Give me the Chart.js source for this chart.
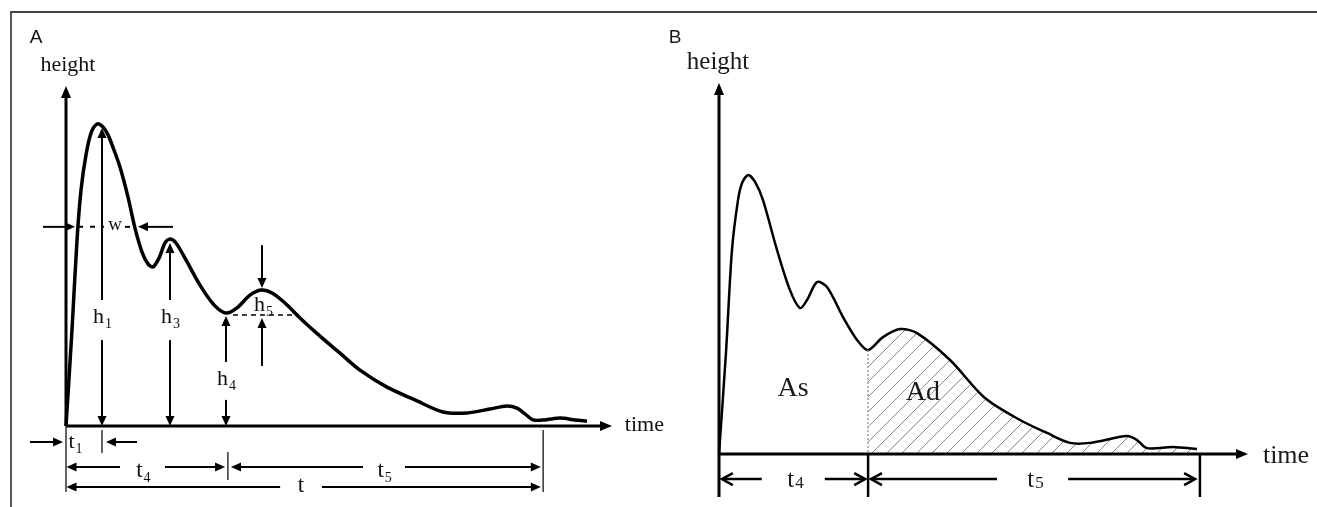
<!DOCTYPE html>
<html>
<head>
<meta charset="utf-8">
<script src="https://cdn.jsdelivr.net/npm/chart.js@4/dist/chart.umd.min.js"></script>
<style>
  body { margin: 0; background: #fff; }
  #wrap { position: relative; width: 1317px; height: 507px; overflow: hidden; }
  #frame { position: absolute; left: 10px; top: 11px; width: 1307px; height: 496px;
           border-top: 2px solid #444; border-left: 2px solid #555; box-sizing: border-box; }
  #cA { position: absolute; left: 0; top: 0; }
  #cB { position: absolute; left: 650px; top: 0; }
</style>
</head>
<body>
<div id="wrap">
  <div id="frame"></div>
  <canvas id="cA" width="700" height="507"></canvas>
  <canvas id="cB" width="667" height="507"></canvas>
</div>
<script>
// panel A curve (time vs height, arbitrary units)
const timeA = [0, 1.26, 2.32, 3.16, 4.21, 5.27, 6.53, 7.79, 8.85, 10.11, 11.37, 13.06, 14.53, 16.01,
  17.27, 18.32, 19.59, 20.85, 21.9, 23.17, 25.27, 28.22, 31.17, 33.7, 36.02, 38.75, 41.07, 43.39,
  46.12, 49.28, 53.5, 57.71, 61.92, 67.61, 73.5, 79.4, 84.46, 89.3, 92.88, 94.99, 96.67, 98.36,
  100.88, 104.04, 107.2, 109.73];
const heightA = [0, 31.6, 61.3, 77.7, 89.3, 96.5, 99.5, 98.5, 95.9, 90.9, 85.3, 75.4, 65.2, 57.3,
  53.4, 52.4, 55.3, 60.3, 61.6, 60.3, 54.7, 46.4, 39.9, 37.2, 38.9, 43.1, 44.8, 43.8,
  40.5, 35.6, 29.6, 24.0, 18.4, 12.8, 8.6, 4.6, 4.3, 5.6, 6.6, 5.9, 4.0, 2.0,
  2.0, 2.6, 2.0, 1.6];

// panel B curve
const timeB = [0, 1.46, 2.7, 3.95, 4.78, 6.03, 7.49, 9.15, 12.06, 14.76, 16.84, 18.3, 20.38, 22.46,
  25.78, 28.7, 30.98, 34.1, 37.64, 41.17, 48.04, 55.31, 62.59, 68.21, 72.99, 77.15, 84.84,
  86.92, 89.0, 94.41, 99.4];
const heightB = [0, 33.0, 66.0, 82.1, 87.6, 90.2, 88.0, 82.1, 66.0, 53.0, 47.2, 49.8, 55.6, 54.0,
  44.3, 36.9, 33.6, 37.8, 40.4, 39.1, 30.4, 18.1, 11.0, 6.8, 3.6, 3.6, 5.8,
  4.5, 1.9, 2.3, 1.6];
const splitB = 30.98; // t4 / t5 boundary in panel B

const ptsA = timeA.map((t, i) => ({ x: t, y: heightA[i] }));
const ptsB = timeB.map((t, i) => ({ x: t, y: heightB[i] }));
const ptsAd = ptsB.filter(p => p.x >= splitB);

const SERIF = '"Liberation Serif", "Times New Roman", serif';
const SANS = '"Liberation Sans", Arial, sans-serif';

function seg(ctx, x1, y1, x2, y2) {
  ctx.beginPath(); ctx.moveTo(x1, y1); ctx.lineTo(x2, y2); ctx.stroke();
}
function head(ctx, x1, y1, x2, y2, len, half, open) {
  const a = Math.atan2(y2 - y1, x2 - x1);
  const c = Math.cos(a), s = Math.sin(a);
  const bx = x2 - len * c, by = y2 - len * s;
  ctx.beginPath();
  ctx.moveTo(bx - half * s, by + half * c);
  ctx.lineTo(x2, y2);
  ctx.lineTo(bx + half * s, by - half * c);
  if (open) { ctx.stroke(); } else { ctx.closePath(); ctx.fill(); }
}
function arrow(ctx, x1, y1, x2, y2, len, half, open) {
  const a = Math.atan2(y2 - y1, x2 - x1);
  const back = open ? 0 : len * 0.8;
  seg(ctx, x1, y1, x2 - back * Math.cos(a), y2 - back * Math.sin(a));
  head(ctx, x1, y1, x2, y2, len, half, open);
}
function subText(ctx, main, sub, cx, by, size, subSize, dy) {
  ctx.font = size + 'px ' + SERIF;
  const w1 = ctx.measureText(main).width;
  ctx.font = subSize + 'px ' + SERIF;
  const w2 = ctx.measureText(sub).width;
  const x0 = cx - (w1 + w2) / 2;
  ctx.textAlign = 'left';
  ctx.textBaseline = 'alphabetic';
  ctx.font = size + 'px ' + SERIF;
  ctx.fillText(main, x0, by);
  ctx.font = subSize + 'px ' + SERIF;
  ctx.fillText(sub, x0 + w1 + 1, by + dy);
}

const annotateA = {
  id: 'annotateA',
  afterDraw(chart) {
    const ctx = chart.ctx;
    const X = v => chart.scales.x.getPixelForValue(v);
    const Y = v => chart.scales.y.getPixelForValue(v);
    ctx.save();
    ctx.strokeStyle = '#000'; ctx.fillStyle = '#000';
    ctx.lineCap = 'butt';

    // axes
    ctx.lineWidth = 3;
    arrow(ctx, X(0), Y(0), X(0), Y(112), 12, 5);
    arrow(ctx, X(0), Y(0), X(115), Y(0), 12, 5);

    ctx.lineWidth = 2;
    // w
    arrow(ctx, X(-4.84), Y(65.6), X(1.9), Y(65.6), 10, 4.5);
    arrow(ctx, X(22.54), Y(65.6), X(15.16), Y(65.6), 10, 4.5);
    ctx.setLineDash([5, 7]);
    seg(ctx, X(2.53), Y(65.6), X(8.0), Y(65.6));
    seg(ctx, X(12.43), Y(65.6), X(14.11), Y(65.6));
    ctx.setLineDash([]);

    // h1, h3 (split double arrows)
    [[7.58, 98.2], [21.9, 60.3]].forEach(([hx, top]) => {
      arrow(ctx, X(hx), Y(41.5), X(hx), Y(top), 10, 4.5);
      arrow(ctx, X(hx), Y(28.3), X(hx), Y(0), 10, 4.5);
    });
    // h4
    arrow(ctx, X(33.7), Y(21.1), X(33.7), Y(36.2), 10, 4.5);
    arrow(ctx, X(33.7), Y(8.6), X(33.7), Y(0), 10, 4.5);
    // h5
    arrow(ctx, X(41.28), Y(59.6), X(41.28), Y(45.5), 10, 4.5);
    arrow(ctx, X(41.28), Y(19.8), X(41.28), Y(35.6), 10, 4.5);
    ctx.lineWidth = 1.5;
    ctx.setLineDash([5, 4]);
    seg(ctx, X(35.17), Y(36.6), X(48.86), Y(36.6));
    ctx.setLineDash([]);

    // time spans below the axis
    ctx.lineWidth = 1.5;
    ctx.strokeStyle = '#333';
    seg(ctx, X(0), Y(0), X(0), Y(-21.7));
    seg(ctx, X(7.58), Y(-1.3), X(7.58), Y(-8.9));
    seg(ctx, X(34.1), Y(-8.6), X(34.1), Y(-17.8));
    seg(ctx, X(100.5), Y(-1.3), X(100.5), Y(-21.7));
    ctx.strokeStyle = '#000';
    ctx.lineWidth = 2;
    arrow(ctx, X(-7.58), Y(-5.27), X(-0.63), Y(-5.27), 10, 4.5);
    arrow(ctx, X(14.95), Y(-5.27), X(8.42), Y(-5.27), 10, 4.5);
    arrow(ctx, X(11.37), Y(-13.5), X(0.1), Y(-13.5), 10, 4.5);
    arrow(ctx, X(20.85), Y(-13.5), X(33.5), Y(-13.5), 10, 4.5);
    arrow(ctx, X(62.55), Y(-13.5), X(34.75), Y(-13.5), 10, 4.5);
    arrow(ctx, X(71.4), Y(-13.5), X(100.0), Y(-13.5), 10, 4.5);
    arrow(ctx, X(45.1), Y(-20.1), X(0.1), Y(-20.1), 10, 4.5);
    arrow(ctx, X(53.9), Y(-20.1), X(100.0), Y(-20.1), 10, 4.5);

    // text
    ctx.fillStyle = '#111';
    ctx.font = '19px ' + SANS;
    ctx.textAlign = 'center'; ctx.textBaseline = 'middle';
    ctx.fillText('A', X(-6.3), Y(127.8));
    ctx.font = '22px ' + SERIF;
    ctx.fillText('height', X(0.4), Y(118.9));
    ctx.textAlign = 'left';
    ctx.fillText('time', X(117.7), Y(0.3));
    ctx.textAlign = 'center';
    ctx.font = '19px ' + SERIF;
    ctx.fillText('w', X(10.32), Y(66.2));
    subText(ctx, 'h', '1', X(7.58), Y(33.9), 22, 14, 5);
    subText(ctx, 'h', '3', X(21.9), Y(33.9), 22, 14, 5);
    subText(ctx, 'h', '4', X(33.7), Y(13.5), 22, 14, 5);
    subText(ctx, 'h', '5', X(41.5), Y(37.9), 22, 14, 5);
    subText(ctx, 't', '1', X(1.9), Y(-7.2), 22, 14, 5);
    subText(ctx, 't', '4', X(16.2), Y(-16.8), 23, 14, 5);
    subText(ctx, 't', '5', X(67.0), Y(-16.8), 23, 14, 5);
    ctx.font = '23px ' + SERIF;
    ctx.textAlign = 'center'; ctx.textBaseline = 'alphabetic';
    ctx.fillText('t', X(49.5), Y(-21.7));
    ctx.restore();
  }
};

const annotateB = {
  id: 'annotateB',
  afterDraw(chart) {
    const ctx = chart.ctx;
    const X = v => chart.scales.x.getPixelForValue(v);
    const Y = v => chart.scales.y.getPixelForValue(v);
    ctx.save();
    ctx.strokeStyle = '#000'; ctx.fillStyle = '#000';

    // divider between As and Ad
    ctx.strokeStyle = '#999'; ctx.lineWidth = 1.5;
    ctx.setLineDash([2, 2]);
    seg(ctx, X(splitB), Y(33.6), X(splitB), Y(0));
    ctx.setLineDash([]);

    ctx.strokeStyle = '#000';
    ctx.lineWidth = 3;
    arrow(ctx, X(0), Y(-13.9), X(0), Y(120), 12, 5);
    arrow(ctx, X(0), Y(0), X(110), Y(0), 12, 5);

    ctx.lineWidth = 2.5;
    seg(ctx, X(31.0), Y(0), X(31.0), Y(-13.9));
    seg(ctx, X(100.0), Y(0), X(100.0), Y(-13.9));
    arrow(ctx, X(8.9), Y(-8.1), X(0.6), Y(-8.1), 11, 6, true);
    arrow(ctx, X(22.0), Y(-8.1), X(30.4), Y(-8.1), 11, 6, true);
    arrow(ctx, X(57.8), Y(-8.1), X(31.6), Y(-8.1), 11, 6, true);
    arrow(ctx, X(72.6), Y(-8.1), X(99.0), Y(-8.1), 11, 6, true);

    ctx.fillStyle = '#1a1a1a';
    ctx.textAlign = 'center'; ctx.textBaseline = 'middle';
    ctx.font = '19px ' + SANS;
    ctx.fillText('B', X(-9.15), Y(134.5));
    ctx.font = '25px ' + SERIF;
    ctx.fillText('height', X(-0.2), Y(126.5));
    ctx.textAlign = 'left';
    ctx.font = '26px ' + SERIF;
    ctx.fillText('time', X(113.1), Y(-0.6));
    ctx.textAlign = 'center';
    ctx.font = '28px ' + SERIF;
    ctx.fillText('As', X(15.4), Y(21.3));
    ctx.fillText('Ad', X(42.4), Y(19.7));
    subText(ctx, 't', '4', X(15.8), Y(-10.7), 25, 17, 1);
    subText(ctx, 't', '5', X(65.7), Y(-10.7), 25, 17, 1);
    ctx.restore();
  }
};

function hatch(ctx) {
  const pc = document.createElement('canvas');
  pc.width = 15; pc.height = 15;
  const p = pc.getContext('2d');
  p.strokeStyle = '#8a8a8a'; p.lineWidth = 1;
  p.beginPath();
  p.moveTo(0, 15); p.lineTo(15, 0);
  p.moveTo(-2, 2); p.lineTo(2, -2);
  p.moveTo(13, 17); p.lineTo(17, 13);
  p.stroke();
  return ctx.createPattern(pc, 'repeat');
}

const baseOpts = (xmax, ymax, padding) => ({
  responsive: false,
  animation: false,
  layout: { padding },
  plugins: { legend: { display: false }, tooltip: { enabled: false } },
  elements: { point: { radius: 0 } },
  scales: {
    x: { type: 'linear', min: 0, max: xmax, display: false },
    y: { min: 0, max: ymax, display: false }
  }
});

new Chart('cA', {
  type: 'line',
  data: {
    datasets: [{
      data: ptsA, borderColor: '#000', borderWidth: 3.5,
      tension: 0.3, fill: false, clip: false
    }]
  },
  options: baseOpts(115, 112, { left: 66, right: 88, top: 86, bottom: 81 }),
  plugins: [annotateA]
});

const ctxB = document.getElementById('cB').getContext('2d');
new Chart(ctxB, {
  type: 'line',
  data: {
    datasets: [
      { data: ptsB, borderColor: '#000', borderWidth: 2.5,
        tension: 0.3, fill: false, clip: false },
      { data: ptsAd, borderWidth: 0, borderColor: 'rgba(0,0,0,0)',
        backgroundColor: hatch(ctxB), tension: 0.3,
        fill: 'origin', clip: false }
    ]
  },
  options: baseOpts(110, 120, { left: 69, right: 69, top: 83, bottom: 53 }),
  plugins: [annotateB]
});
</script>
</body>
</html>
